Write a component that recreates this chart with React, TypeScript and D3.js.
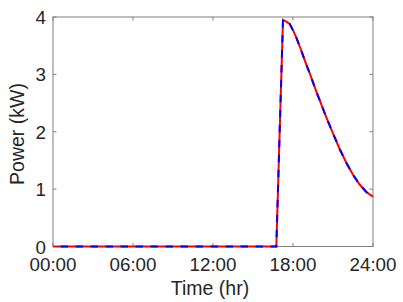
import React from "react";
import * as d3 from "d3";

const hours = [0, 16.75, 17.0, 17.25, 17.5, 17.75, 18.0, 18.25, 18.5, 18.75, 19.0, 19.25, 19.5, 19.75, 20.0, 20.5, 21.0, 21.5, 22.0, 22.5, 23.0, 23.5, 24.0];
const power = [0, 0, 2.0, 3.95, 3.92, 3.88, 3.77, 3.64, 3.49, 3.33, 3.17, 3.02, 2.86, 2.70, 2.55, 2.25, 1.97, 1.70, 1.46, 1.25, 1.08, 0.95, 0.87];
const xTicks = [0, 6, 12, 18, 24];
const xTickLabels = ["00:00", "06:00", "12:00", "18:00", "24:00"];
const yTicks = [0, 1, 2, 3, 4];

export default function App() {
  const W = 403, H = 302;
  const left = 53, right = 373, top = 17, bottom = 246.5;
  const x = d3.scaleLinear().domain([0, 24]).range([left, right]);
  const y = d3.scaleLinear().domain([0, 4]).range([bottom, top]);
  const pts = hours.map((h, i) => [h, power[i]] as [number, number]);
  const line = d3.line<[number, number]>().x(d => x(d[0])).y(d => y(d[1]));
  const path = line(pts) || "";
  const axisColor = "#808080";
  const textColor = "#262626";
  const font = "'Liberation Sans', Arial, sans-serif";
  const tl = 3.5;
  return (
    <svg width={W} height={H} style={{ position: "absolute", left: 0, top: 0 }} fontFamily={font}>
      <rect x={0} y={0} width={W} height={H} fill="#fff" />
      <rect x={left} y={top} width={right - left} height={bottom - top} fill="none" stroke={axisColor} strokeWidth={1} />
      {xTicks.map((t, i) => (
        <g key={"x" + i}>
          <line x1={x(t)} x2={x(t)} y1={bottom} y2={bottom - tl} stroke={axisColor} />
          <line x1={x(t)} x2={x(t)} y1={top} y2={top + tl} stroke={axisColor} />
          <text x={x(t)} y={271.3} textAnchor="middle" fontSize={18.8} fill={textColor}>{xTickLabels[i]}</text>
        </g>
      ))}
      {yTicks.map((t, i) => (
        <g key={"y" + i}>
          <line x1={left} x2={left + tl} y1={y(t)} y2={y(t)} stroke={axisColor} />
          <line x1={right} x2={right - tl} y1={y(t)} y2={y(t)} stroke={axisColor} />
          <text x={46} y={y(t) + 7} textAnchor="end" fontSize={18.8} fill={textColor}>{t}</text>
        </g>
      ))}
      <path d={path} fill="none" stroke="#ff0000" strokeWidth={2} />
      <path d={path} fill="none" stroke="#0000ff" strokeWidth={2} strokeDasharray="7.5 7.5" strokeDashoffset={7.5} />
      <text x={210} y={295} textAnchor="middle" fontSize={19.5} fill={textColor}>Time (hr)</text>
      <text transform={`translate(24,134) rotate(-90)`} textAnchor="middle" fontSize={19.5} fill={textColor}>Power (kW)</text>
    </svg>
  );
}
